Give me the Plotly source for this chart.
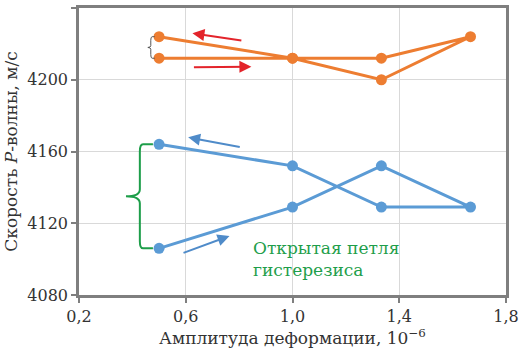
import plotly.graph_objects as go

# P-wave velocity hysteresis loops
orange_x = [0.5, 1.0, 1.333, 1.667, 1.333, 1.0, 0.5]
orange_y = [4212, 4212, 4212, 4224, 4200, 4212, 4224]
blue_x = [0.5, 1.0, 1.333, 1.667, 1.333, 1.0, 0.5]
blue_y = [4106, 4129, 4152, 4129, 4129, 4152, 4164]

x_ticks = [0.2, 0.6, 1.0, 1.4, 1.8]
x_tick_labels = ["0,2", "0,6", "1,0", "1,4", "1,8"]
y_ticks = [4080, 4120, 4160, 4200, 4240]
y_tick_labels = ["4080", "4120", "4160", "4200", "4240"]

# direction arrows: (head_x, head_y, tail_x, tail_y)
red_arrows = [(0.625, 4225.9, 0.814, 4221.8), (0.846, 4207.3, 0.625, 4206.9)]
blue_arrows = [(0.609, 4167.9, 0.808, 4162.3), (0.764, 4112.9, 0.586, 4103.2)]

ORANGE = "#ED7D31"
BLUE = "#5B9BD5"
GREEN = "#1E9E4A"
RED = "#E3242B"
FONT = "DejaVu Serif"
FS = 16
FT = 17

fig = go.Figure()
fig.add_trace(go.Scatter(x=orange_x, y=orange_y, mode="lines+markers",
                         line=dict(color=ORANGE, width=3),
                         marker=dict(color=ORANGE, size=11), showlegend=False))
fig.add_trace(go.Scatter(x=blue_x, y=blue_y, mode="lines+markers",
                         line=dict(color=BLUE, width=3),
                         marker=dict(color=BLUE, size=11), showlegend=False))

annotations = []
for hx, hy, tx, ty in red_arrows:
    annotations.append(dict(x=hx, y=hy, ax=tx, ay=ty, xref="x", yref="y",
                            axref="x", ayref="y", text="", showarrow=True,
                            arrowhead=2, arrowsize=1.2, arrowwidth=2, arrowcolor=RED))
for hx, hy, tx, ty in blue_arrows:
    annotations.append(dict(x=hx, y=hy, ax=tx, ay=ty, xref="x", yref="y",
                            axref="x", ayref="y", text="", showarrow=True,
                            arrowhead=2, arrowsize=1.2, arrowwidth=2, arrowcolor="#4F8BC9"))
annotations.append(dict(x=0.845, y=4113, xref="x", yref="y", xanchor="left", yanchor="top",
                        text="Открытая петля<br>гистерезиса", showarrow=False, align="left",
                        font=dict(family=FONT, size=FT, color=GREEN)))

shapes = [
    dict(type="path", xref="x", yref="y",
         path="M 0.477,4164 L 0.440,4164 Q 0.428,4164 0.428,4160 L 0.428,4139 "
              "Q 0.428,4135 0.376,4135 Q 0.428,4135 0.428,4131 L 0.428,4110 "
              "Q 0.428,4106 0.440,4106 L 0.477,4106",
         line=dict(color=GREEN, width=2)),
    dict(type="path", xref="x", yref="y",
         path="M 0.484,4224 L 0.474,4224 Q 0.469,4224 0.469,4222 L 0.469,4219 "
              "Q 0.469,4218 0.458,4218 Q 0.469,4218 0.469,4217 L 0.469,4214 "
              "Q 0.469,4212 0.474,4212 L 0.484,4212",
         line=dict(color="#555555", width=1)),
]

fig.update_layout(
    width=521, height=352,
    margin=dict(l=79, r=15, t=8, b=57),
    plot_bgcolor="white", paper_bgcolor="white",
    font=dict(family=FONT, size=FS, color="#333333"),
    annotations=annotations, shapes=shapes,
    xaxis=dict(range=[0.2, 1.8], tickvals=x_ticks, ticktext=x_tick_labels,
               automargin=False,
               showgrid=True, gridcolor="#D9D9D9", gridwidth=1,
               showline=True, linecolor="#7F7F7F", linewidth=2.5, mirror=True,
               ticks="outside", ticklen=5, tickcolor="#7F7F7F", tickwidth=2,
               zeroline=False,
               title=dict(text="Амплитуда деформации, 10<sup>−6</sup>", standoff=6,
                          font=dict(family=FONT, size=FT, color="#333333"))),
    yaxis=dict(range=[4080, 4240], tickvals=y_ticks, ticktext=y_tick_labels,
               automargin=False,
               showgrid=True, gridcolor="#D9D9D9", gridwidth=1,
               showline=True, linecolor="#7F7F7F", linewidth=2.5, mirror=True,
               ticks="outside", ticklen=5, tickcolor="#7F7F7F", tickwidth=2,
               zeroline=False,
               title=dict(text="Скорость <i>P</i>-волны, м/с", standoff=6,
                          font=dict(family=FONT, size=FT, color="#333333"))),
)

fig.write_html("out.html", config={"displayModeBar": False},
               post_script="document.body.style.margin='0';document.body.style.overflow='hidden';")
